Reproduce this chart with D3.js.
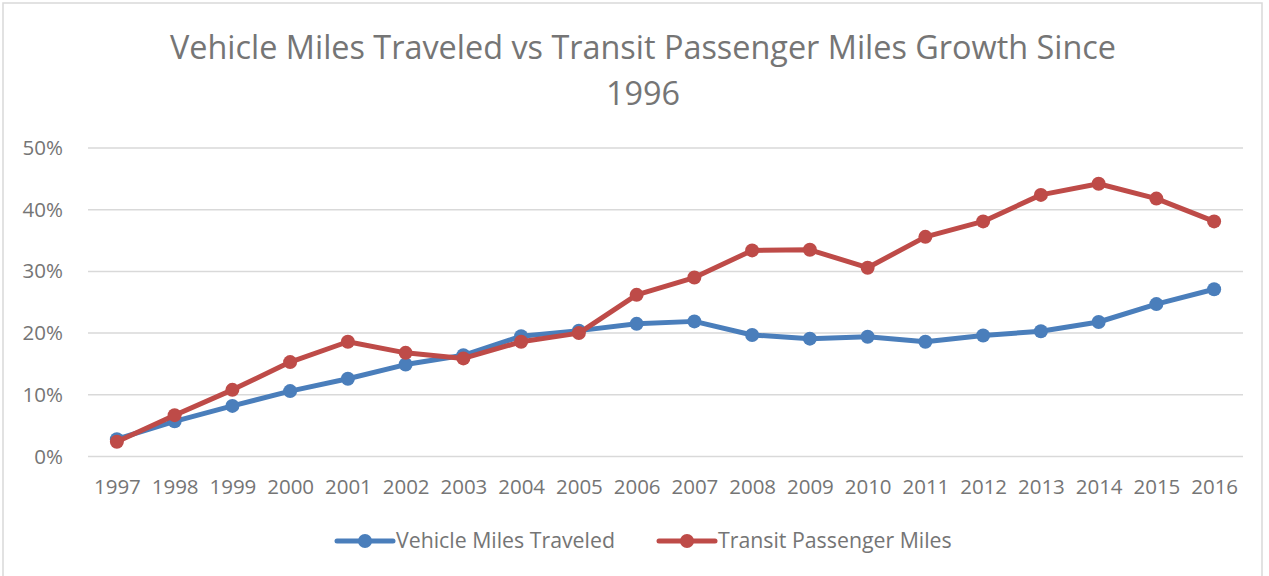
<!DOCTYPE html>
<meta charset="utf-8">
<style>
body { margin: 0; background: #fff; }
text { font-family: "Open Sans", sans-serif; fill: #757575; }
.grid line { stroke: #d9d9d9; stroke-width: 1.5px; }
</style>
<svg width="1269" height="576"></svg>
<script src="https://d3js.org/d3.v7.min.js"></script>
<script>

var years = ["1997","1998","1999","2000","2001","2002","2003","2004","2005","2006",
             "2007","2008","2009","2010","2011","2012","2013","2014","2015","2016"];

var vehicleMiles = [2.8, 5.7, 8.2, 10.6, 12.6, 14.9, 16.4, 19.5, 20.4, 21.5,
                    21.9, 19.7, 19.1, 19.4, 18.6, 19.6, 20.3, 21.8, 24.7, 27.1];

var transitMiles = [2.4, 6.7, 10.8, 15.3, 18.6, 16.8, 15.9, 18.6, 20.0, 26.2,
                    29.0, 33.4, 33.5, 30.6, 35.6, 38.1, 42.4, 44.2, 41.8, 38.1];

var yTicks = [0, 10, 20, 30, 40, 50];

var seriesNames = ["Vehicle Miles Traveled", "Transit Passenger Miles"];
var seriesColors = ["#4a7ebb", "#be4b48"];

var svg = d3.select("svg");

// outer chart border
svg.append("rect")
  .attr("x", 3).attr("y", 3)
  .attr("width", 1259).attr("height", 580)
  .attr("fill", "none")
  .attr("stroke", "#d9d9d9")
  .attr("stroke-width", 1.5);

var x = d3.scalePoint().domain(years).range([88, 1243]).padding(0.5);
var y = d3.scaleLinear().domain([0, 50]).range([456.5, 148]);

// title
var title = svg.append("text")
  .attr("text-anchor", "middle")
  .style("font-size", "32.4px");
title.append("tspan").attr("x", 643).attr("y", 59)
  .text("Vehicle Miles Traveled vs Transit Passenger Miles Growth Since");
title.append("tspan").attr("x", 643).attr("y", 105).text("1996");

// gridlines
svg.append("g").attr("class", "grid")
  .selectAll("line").data(yTicks).enter().append("line")
  .attr("x1", 88).attr("x2", 1243)
  .attr("y1", function(d) { return y(d); })
  .attr("y2", function(d) { return y(d); });

// y axis labels
var yAxis = svg.append("g")
  .attr("transform", "translate(66,0)")
  .call(d3.axisLeft(y).tickValues(yTicks).tickSize(0).tickFormat(function(d) { return d + "%"; }));
yAxis.select(".domain").remove();
yAxis.selectAll("text").style("font-size", "20.5px").attr("fill", "#757575");

// x axis labels
var xAxis = svg.append("g")
  .attr("transform", "translate(0,476)")
  .call(d3.axisBottom(x).tickSize(0));
xAxis.select(".domain").remove();
xAxis.selectAll("text").style("font-size", "20.5px").attr("fill", "#757575");

var series = [vehicleMiles, transitMiles];

var line = d3.line()
  .x(function(d, i) { return x(years[i]); })
  .y(function(d) { return y(d); });

series.forEach(function(vals, s) {
  svg.append("path")
    .datum(vals)
    .attr("d", line)
    .attr("fill", "none")
    .attr("stroke", seriesColors[s])
    .attr("stroke-width", 5)
    .attr("stroke-linejoin", "round");

  svg.append("g").selectAll("circle").data(vals).enter().append("circle")
    .attr("cx", function(d, i) { return x(years[i]); })
    .attr("cy", function(d) { return y(d); })
    .attr("r", 7)
    .attr("fill", seriesColors[s]);
});

// legend
var legendX = [337, 659];
var legend = svg.append("g").selectAll("g").data(seriesNames).enter().append("g")
  .attr("transform", function(d, i) { return "translate(" + legendX[i] + ",541)"; });
legend.append("line")
  .attr("x1", 0).attr("x2", 56)
  .attr("stroke", function(d, i) { return seriesColors[i]; })
  .attr("stroke-width", 5)
  .attr("stroke-linecap", "round");
legend.append("circle")
  .attr("cx", 28).attr("r", 7)
  .attr("fill", function(d, i) { return seriesColors[i]; });
legend.append("text")
  .attr("x", 59).attr("dy", "0.35em")
  .style("font-size", "21.3px")
  .text(function(d) { return d; });

</script>
